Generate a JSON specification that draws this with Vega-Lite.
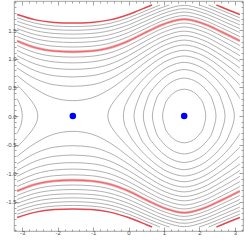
{
"$schema":"https://vega.github.io/schema/vega-lite/v6.json",
"width":229,"height":230,
"autosize":{"type":"none"},
"padding":{"left":14,"top":1,"right":2,"bottom":9},
"background":"white",
"config":{"view":{"stroke":"#8c8c8c","strokeWidth":0.8},
"axis":{"grid":false,"domain":false,"labelFont":"Liberation Sans","labelFontSize":6,"labelColor":"#4d4d4d","tickColor":"#8c8c8c","tickWidth":0.8,"title":null}},
"datasets":{
"open":[
{"c":"7a","n":7,"x":-3.1416,"y":0.707},{"c":"7a","n":7,"x":-2.618,"y":0.47},{"c":"7a","n":7,"x":-2.0944,"y":0.315},{"c":"7a","n":7,"x":-1.5708,"y":0.268},{"c":"7a","n":7,"x":-1.0472,"y":0.315},{"c":"7a","n":7,"x":-0.5236,"y":0.47},{"c":"7a","n":7,"x":0,"y":0.707},{"c":"7a","n":7,"x":0.5236,"y":0.959},{"c":"7a","n":7,"x":1.0472,"y":1.156},{"c":"7a","n":7,"x":1.5708,"y":1.241},{"c":"7a","n":7,"x":2.0944,"y":1.156},{"c":"7a","n":7,"x":2.618,"y":0.959},{"c":"7a","n":7,"x":3.1416,"y":0.707},
{"c":"7b","n":7,"x":-3.1416,"y":-0.707},{"c":"7b","n":7,"x":-2.618,"y":-0.47},{"c":"7b","n":7,"x":-2.0944,"y":-0.315},{"c":"7b","n":7,"x":-1.5708,"y":-0.268},{"c":"7b","n":7,"x":-1.0472,"y":-0.315},{"c":"7b","n":7,"x":-0.5236,"y":-0.47},{"c":"7b","n":7,"x":0,"y":-0.707},{"c":"7b","n":7,"x":0.5236,"y":-0.959},{"c":"7b","n":7,"x":1.0472,"y":-1.156},{"c":"7b","n":7,"x":1.5708,"y":-1.241},{"c":"7b","n":7,"x":2.0944,"y":-1.156},{"c":"7b","n":7,"x":2.618,"y":-0.959},{"c":"7b","n":7,"x":3.1416,"y":-0.707},
{"c":"8a","n":8,"x":-3.1416,"y":0.839},{"c":"8a","n":8,"x":-2.618,"y":0.649},{"c":"8a","n":8,"x":-2.0944,"y":0.545},{"c":"8a","n":8,"x":-1.5708,"y":0.519},{"c":"8a","n":8,"x":-1.0472,"y":0.545},{"c":"8a","n":8,"x":-0.5236,"y":0.649},{"c":"8a","n":8,"x":0,"y":0.839},{"c":"8a","n":8,"x":0.5236,"y":1.062},{"c":"8a","n":8,"x":1.0472,"y":1.245},{"c":"8a","n":8,"x":1.5708,"y":1.327},{"c":"8a","n":8,"x":2.0944,"y":1.245},{"c":"8a","n":8,"x":2.618,"y":1.062},{"c":"8a","n":8,"x":3.1416,"y":0.839},
{"c":"8b","n":8,"x":-3.1416,"y":-0.839},{"c":"8b","n":8,"x":-2.618,"y":-0.649},{"c":"8b","n":8,"x":-2.0944,"y":-0.545},{"c":"8b","n":8,"x":-1.5708,"y":-0.519},{"c":"8b","n":8,"x":-1.0472,"y":-0.545},{"c":"8b","n":8,"x":-0.5236,"y":-0.649},{"c":"8b","n":8,"x":0,"y":-0.839},{"c":"8b","n":8,"x":0.5236,"y":-1.062},{"c":"8b","n":8,"x":1.0472,"y":-1.245},{"c":"8b","n":8,"x":1.5708,"y":-1.327},{"c":"8b","n":8,"x":2.0944,"y":-1.245},{"c":"8b","n":8,"x":2.618,"y":-1.062},{"c":"8b","n":8,"x":3.1416,"y":-0.839},
{"c":"9a","n":9,"x":-3.1416,"y":0.952},{"c":"9a","n":9,"x":-2.618,"y":0.788},{"c":"9a","n":9,"x":-2.0944,"y":0.704},{"c":"9a","n":9,"x":-1.5708,"y":0.683},{"c":"9a","n":9,"x":-1.0472,"y":0.704},{"c":"9a","n":9,"x":-0.5236,"y":0.788},{"c":"9a","n":9,"x":0,"y":0.952},{"c":"9a","n":9,"x":0.5236,"y":1.156},{"c":"9a","n":9,"x":1.0472,"y":1.328},{"c":"9a","n":9,"x":1.5708,"y":1.407},{"c":"9a","n":9,"x":2.0944,"y":1.328},{"c":"9a","n":9,"x":2.618,"y":1.156},{"c":"9a","n":9,"x":3.1416,"y":0.952},
{"c":"9b","n":9,"x":-3.1416,"y":-0.952},{"c":"9b","n":9,"x":-2.618,"y":-0.788},{"c":"9b","n":9,"x":-2.0944,"y":-0.704},{"c":"9b","n":9,"x":-1.5708,"y":-0.683},{"c":"9b","n":9,"x":-1.0472,"y":-0.704},{"c":"9b","n":9,"x":-0.5236,"y":-0.788},{"c":"9b","n":9,"x":0,"y":-0.952},{"c":"9b","n":9,"x":0.5236,"y":-1.156},{"c":"9b","n":9,"x":1.0472,"y":-1.328},{"c":"9b","n":9,"x":1.5708,"y":-1.407},{"c":"9b","n":9,"x":2.0944,"y":-1.328},{"c":"9b","n":9,"x":2.618,"y":-1.156},{"c":"9b","n":9,"x":3.1416,"y":-0.952},
{"c":"10a","n":10,"x":-3.1416,"y":1.054},{"c":"10a","n":10,"x":-2.618,"y":0.906},{"c":"10a","n":10,"x":-2.0944,"y":0.833},{"c":"10a","n":10,"x":-1.5708,"y":0.815},{"c":"10a","n":10,"x":-1.0472,"y":0.833},{"c":"10a","n":10,"x":-0.5236,"y":0.906},{"c":"10a","n":10,"x":0,"y":1.054},{"c":"10a","n":10,"x":0.5236,"y":1.243},{"c":"10a","n":10,"x":1.0472,"y":1.406},{"c":"10a","n":10,"x":1.5708,"y":1.483},{"c":"10a","n":10,"x":2.0944,"y":1.406},{"c":"10a","n":10,"x":2.618,"y":1.243},{"c":"10a","n":10,"x":3.1416,"y":1.054},
{"c":"10b","n":10,"x":-3.1416,"y":-1.054},{"c":"10b","n":10,"x":-2.618,"y":-0.906},{"c":"10b","n":10,"x":-2.0944,"y":-0.833},{"c":"10b","n":10,"x":-1.5708,"y":-0.815},{"c":"10b","n":10,"x":-1.0472,"y":-0.833},{"c":"10b","n":10,"x":-0.5236,"y":-0.906},{"c":"10b","n":10,"x":0,"y":-1.054},{"c":"10b","n":10,"x":0.5236,"y":-1.243},{"c":"10b","n":10,"x":1.0472,"y":-1.406},{"c":"10b","n":10,"x":1.5708,"y":-1.483},{"c":"10b","n":10,"x":2.0944,"y":-1.406},{"c":"10b","n":10,"x":2.618,"y":-1.243},{"c":"10b","n":10,"x":3.1416,"y":-1.054},
{"c":"11a","n":11,"x":-3.1416,"y":1.146},{"c":"11a","n":11,"x":-2.618,"y":1.011},{"c":"11a","n":11,"x":-2.0944,"y":0.945},{"c":"11a","n":11,"x":-1.5708,"y":0.928},{"c":"11a","n":11,"x":-1.0472,"y":0.945},{"c":"11a","n":11,"x":-0.5236,"y":1.011},{"c":"11a","n":11,"x":0,"y":1.146},{"c":"11a","n":11,"x":0.5236,"y":1.324},{"c":"11a","n":11,"x":1.0472,"y":1.48},{"c":"11a","n":11,"x":1.5708,"y":1.556},{"c":"11a","n":11,"x":2.0944,"y":1.48},{"c":"11a","n":11,"x":2.618,"y":1.324},{"c":"11a","n":11,"x":3.1416,"y":1.146},
{"c":"11b","n":11,"x":-3.1416,"y":-1.146},{"c":"11b","n":11,"x":-2.618,"y":-1.011},{"c":"11b","n":11,"x":-2.0944,"y":-0.945},{"c":"11b","n":11,"x":-1.5708,"y":-0.928},{"c":"11b","n":11,"x":-1.0472,"y":-0.945},{"c":"11b","n":11,"x":-0.5236,"y":-1.011},{"c":"11b","n":11,"x":0,"y":-1.146},{"c":"11b","n":11,"x":0.5236,"y":-1.324},{"c":"11b","n":11,"x":1.0472,"y":-1.48},{"c":"11b","n":11,"x":1.5708,"y":-1.556},{"c":"11b","n":11,"x":2.0944,"y":-1.48},{"c":"11b","n":11,"x":2.618,"y":-1.324},{"c":"11b","n":11,"x":3.1416,"y":-1.146},
{"c":"12a","n":12,"x":-3.1416,"y":1.232},{"c":"12a","n":12,"x":-2.618,"y":1.105},{"c":"12a","n":12,"x":-2.0944,"y":1.044},{"c":"12a","n":12,"x":-1.5708,"y":1.029},{"c":"12a","n":12,"x":-1.0472,"y":1.044},{"c":"12a","n":12,"x":-0.5236,"y":1.105},{"c":"12a","n":12,"x":0,"y":1.232},{"c":"12a","n":12,"x":0.5236,"y":1.4},{"c":"12a","n":12,"x":1.0472,"y":1.55},{"c":"12a","n":12,"x":1.5708,"y":1.625},{"c":"12a","n":12,"x":2.0944,"y":1.55},{"c":"12a","n":12,"x":2.618,"y":1.4},{"c":"12a","n":12,"x":3.1416,"y":1.232},
{"c":"12b","n":12,"x":-3.1416,"y":-1.232},{"c":"12b","n":12,"x":-2.618,"y":-1.105},{"c":"12b","n":12,"x":-2.0944,"y":-1.044},{"c":"12b","n":12,"x":-1.5708,"y":-1.029},{"c":"12b","n":12,"x":-1.0472,"y":-1.044},{"c":"12b","n":12,"x":-0.5236,"y":-1.105},{"c":"12b","n":12,"x":0,"y":-1.232},{"c":"12b","n":12,"x":0.5236,"y":-1.4},{"c":"12b","n":12,"x":1.0472,"y":-1.55},{"c":"12b","n":12,"x":1.5708,"y":-1.625},{"c":"12b","n":12,"x":2.0944,"y":-1.55},{"c":"12b","n":12,"x":2.618,"y":-1.4},{"c":"12b","n":12,"x":3.1416,"y":-1.232},
{"c":"13a","n":13,"x":-3.1416,"y":1.312},{"c":"13a","n":13,"x":-2.618,"y":1.193},{"c":"13a","n":13,"x":-2.0944,"y":1.135},{"c":"13a","n":13,"x":-1.5708,"y":1.121},{"c":"13a","n":13,"x":-1.0472,"y":1.135},{"c":"13a","n":13,"x":-0.5236,"y":1.193},{"c":"13a","n":13,"x":0,"y":1.312},{"c":"13a","n":13,"x":0.5236,"y":1.473},{"c":"13a","n":13,"x":1.0472,"y":1.618},{"c":"13a","n":13,"x":1.5708,"y":1.691},{"c":"13a","n":13,"x":2.0944,"y":1.618},{"c":"13a","n":13,"x":2.618,"y":1.473},{"c":"13a","n":13,"x":3.1416,"y":1.312},
{"c":"13b","n":13,"x":-3.1416,"y":-1.312},{"c":"13b","n":13,"x":-2.618,"y":-1.193},{"c":"13b","n":13,"x":-2.0944,"y":-1.135},{"c":"13b","n":13,"x":-1.5708,"y":-1.121},{"c":"13b","n":13,"x":-1.0472,"y":-1.135},{"c":"13b","n":13,"x":-0.5236,"y":-1.193},{"c":"13b","n":13,"x":0,"y":-1.312},{"c":"13b","n":13,"x":0.5236,"y":-1.473},{"c":"13b","n":13,"x":1.0472,"y":-1.618},{"c":"13b","n":13,"x":1.5708,"y":-1.691},{"c":"13b","n":13,"x":2.0944,"y":-1.618},{"c":"13b","n":13,"x":2.618,"y":-1.473},{"c":"13b","n":13,"x":3.1416,"y":-1.312},
{"c":"14a","n":14,"x":-3.1416,"y":1.387},{"c":"14a","n":14,"x":-2.618,"y":1.274},{"c":"14a","n":14,"x":-2.0944,"y":1.219},{"c":"14a","n":14,"x":-1.5708,"y":1.206},{"c":"14a","n":14,"x":-1.0472,"y":1.219},{"c":"14a","n":14,"x":-0.5236,"y":1.274},{"c":"14a","n":14,"x":0,"y":1.387},{"c":"14a","n":14,"x":0.5236,"y":1.542},{"c":"14a","n":14,"x":1.0472,"y":1.683},{"c":"14a","n":14,"x":1.5708,"y":1.755},{"c":"14a","n":14,"x":2.0944,"y":1.683},{"c":"14a","n":14,"x":2.618,"y":1.542},{"c":"14a","n":14,"x":3.1416,"y":1.387},
{"c":"14b","n":14,"x":-3.1416,"y":-1.387},{"c":"14b","n":14,"x":-2.618,"y":-1.274},{"c":"14b","n":14,"x":-2.0944,"y":-1.219},{"c":"14b","n":14,"x":-1.5708,"y":-1.206},{"c":"14b","n":14,"x":-1.0472,"y":-1.219},{"c":"14b","n":14,"x":-0.5236,"y":-1.274},{"c":"14b","n":14,"x":0,"y":-1.387},{"c":"14b","n":14,"x":0.5236,"y":-1.542},{"c":"14b","n":14,"x":1.0472,"y":-1.683},{"c":"14b","n":14,"x":1.5708,"y":-1.755},{"c":"14b","n":14,"x":2.0944,"y":-1.683},{"c":"14b","n":14,"x":2.618,"y":-1.542},{"c":"14b","n":14,"x":3.1416,"y":-1.387},
{"c":"15a","n":15,"x":-3.1416,"y":1.459},{"c":"15a","n":15,"x":-2.618,"y":1.35},{"c":"15a","n":15,"x":-2.0944,"y":1.298},{"c":"15a","n":15,"x":-1.5708,"y":1.285},{"c":"15a","n":15,"x":-1.0472,"y":1.298},{"c":"15a","n":15,"x":-0.5236,"y":1.35},{"c":"15a","n":15,"x":0,"y":1.459},{"c":"15a","n":15,"x":0.5236,"y":1.608},{"c":"15a","n":15,"x":1.0472,"y":1.745},{"c":"15a","n":15,"x":1.5708,"y":1.817},{"c":"15a","n":15,"x":2.0944,"y":1.745},{"c":"15a","n":15,"x":2.618,"y":1.608},{"c":"15a","n":15,"x":3.1416,"y":1.459},
{"c":"15b","n":15,"x":-3.1416,"y":-1.459},{"c":"15b","n":15,"x":-2.618,"y":-1.35},{"c":"15b","n":15,"x":-2.0944,"y":-1.298},{"c":"15b","n":15,"x":-1.5708,"y":-1.285},{"c":"15b","n":15,"x":-1.0472,"y":-1.298},{"c":"15b","n":15,"x":-0.5236,"y":-1.35},{"c":"15b","n":15,"x":0,"y":-1.459},{"c":"15b","n":15,"x":0.5236,"y":-1.608},{"c":"15b","n":15,"x":1.0472,"y":-1.745},{"c":"15b","n":15,"x":1.5708,"y":-1.817},{"c":"15b","n":15,"x":2.0944,"y":-1.745},{"c":"15b","n":15,"x":2.618,"y":-1.608},{"c":"15b","n":15,"x":3.1416,"y":-1.459},
{"c":"16a","n":16,"x":-3.1416,"y":1.527},{"c":"16a","n":16,"x":-2.618,"y":1.422},{"c":"16a","n":16,"x":-2.0944,"y":1.372},{"c":"16a","n":16,"x":-1.5708,"y":1.36},{"c":"16a","n":16,"x":-1.0472,"y":1.372},{"c":"16a","n":16,"x":-0.5236,"y":1.422},{"c":"16a","n":16,"x":0,"y":1.527},{"c":"16a","n":16,"x":0.5236,"y":1.671},{"c":"16a","n":16,"x":1.0472,"y":1.805},{"c":"16a","n":16,"x":1.5708,"y":1.876},{"c":"16a","n":16,"x":2.0944,"y":1.805},{"c":"16a","n":16,"x":2.618,"y":1.671},{"c":"16a","n":16,"x":3.1416,"y":1.527},
{"c":"16b","n":16,"x":-3.1416,"y":-1.527},{"c":"16b","n":16,"x":-2.618,"y":-1.422},{"c":"16b","n":16,"x":-2.0944,"y":-1.372},{"c":"16b","n":16,"x":-1.5708,"y":-1.36},{"c":"16b","n":16,"x":-1.0472,"y":-1.372},{"c":"16b","n":16,"x":-0.5236,"y":-1.422},{"c":"16b","n":16,"x":0,"y":-1.527},{"c":"16b","n":16,"x":0.5236,"y":-1.671},{"c":"16b","n":16,"x":1.0472,"y":-1.805},{"c":"16b","n":16,"x":1.5708,"y":-1.876},{"c":"16b","n":16,"x":2.0944,"y":-1.805},{"c":"16b","n":16,"x":2.618,"y":-1.671},{"c":"16b","n":16,"x":3.1416,"y":-1.527},
{"c":"17a","n":17,"x":-3.1416,"y":1.592},{"c":"17a","n":17,"x":-2.618,"y":1.491},{"c":"17a","n":17,"x":-2.0944,"y":1.443},{"c":"17a","n":17,"x":-1.5708,"y":1.431},{"c":"17a","n":17,"x":-1.0472,"y":1.443},{"c":"17a","n":17,"x":-0.5236,"y":1.491},{"c":"17a","n":17,"x":0,"y":1.592},{"c":"17a","n":17,"x":0.5236,"y":1.732},{"c":"17a","n":17,"x":1.0472,"y":1.863},{"c":"17a","n":17,"x":1.5708,"y":1.934},{"c":"17a","n":17,"x":2.0944,"y":1.863},{"c":"17a","n":17,"x":2.618,"y":1.732},{"c":"17a","n":17,"x":3.1416,"y":1.592},
{"c":"17b","n":17,"x":-3.1416,"y":-1.592},{"c":"17b","n":17,"x":-2.618,"y":-1.491},{"c":"17b","n":17,"x":-2.0944,"y":-1.443},{"c":"17b","n":17,"x":-1.5708,"y":-1.431},{"c":"17b","n":17,"x":-1.0472,"y":-1.443},{"c":"17b","n":17,"x":-0.5236,"y":-1.491},{"c":"17b","n":17,"x":0,"y":-1.592},{"c":"17b","n":17,"x":0.5236,"y":-1.732},{"c":"17b","n":17,"x":1.0472,"y":-1.863},{"c":"17b","n":17,"x":1.5708,"y":-1.934},{"c":"17b","n":17,"x":2.0944,"y":-1.863},{"c":"17b","n":17,"x":2.618,"y":-1.732},{"c":"17b","n":17,"x":3.1416,"y":-1.592},
{"c":"18a1","n":18,"x":-3.1416,"y":1.655},{"c":"18a1","n":18,"x":-2.618,"y":1.557},{"c":"18a1","n":18,"x":-2.0944,"y":1.51},{"c":"18a1","n":18,"x":-1.5708,"y":1.498},{"c":"18a1","n":18,"x":-1.0472,"y":1.51},{"c":"18a1","n":18,"x":-0.5236,"y":1.557},{"c":"18a1","n":18,"x":0,"y":1.655},{"c":"18a1","n":18,"x":0.5236,"y":1.792},{"c":"18a1","n":18,"x":1.0472,"y":1.92},{"c":"18a1","n":18,"x":1.1525,"y":1.94},
{"c":"18a2","n":18,"x":1.9891,"y":1.94},{"c":"18a2","n":18,"x":2.0944,"y":1.92},{"c":"18a2","n":18,"x":2.618,"y":1.792},{"c":"18a2","n":18,"x":3.1416,"y":1.655},
{"c":"18b1","n":18,"x":-3.1416,"y":-1.655},{"c":"18b1","n":18,"x":-2.618,"y":-1.557},{"c":"18b1","n":18,"x":-2.0944,"y":-1.51},{"c":"18b1","n":18,"x":-1.5708,"y":-1.498},{"c":"18b1","n":18,"x":-1.0472,"y":-1.51},{"c":"18b1","n":18,"x":-0.5236,"y":-1.557},{"c":"18b1","n":18,"x":0,"y":-1.655},{"c":"18b1","n":18,"x":0.5236,"y":-1.792},{"c":"18b1","n":18,"x":1.0472,"y":-1.92},{"c":"18b1","n":18,"x":1.1525,"y":-1.94},
{"c":"18b2","n":18,"x":1.9891,"y":-1.94},{"c":"18b2","n":18,"x":2.0944,"y":-1.92},{"c":"18b2","n":18,"x":2.618,"y":-1.792},{"c":"18b2","n":18,"x":3.1416,"y":-1.655},
{"c":"19a1","n":19,"x":-3.1416,"y":1.716},{"c":"19a1","n":19,"x":-2.618,"y":1.62},{"c":"19a1","n":19,"x":-2.0944,"y":1.574},{"c":"19a1","n":19,"x":-1.5708,"y":1.563},{"c":"19a1","n":19,"x":-1.0472,"y":1.574},{"c":"19a1","n":19,"x":-0.5236,"y":1.62},{"c":"19a1","n":19,"x":0,"y":1.716},{"c":"19a1","n":19,"x":0.5236,"y":1.849},{"c":"19a1","n":19,"x":0.886,"y":1.94},
{"c":"19a2","n":19,"x":2.2556,"y":1.94},{"c":"19a2","n":19,"x":2.618,"y":1.849},{"c":"19a2","n":19,"x":3.1416,"y":1.716},
{"c":"19b1","n":19,"x":-3.1416,"y":-1.716},{"c":"19b1","n":19,"x":-2.618,"y":-1.62},{"c":"19b1","n":19,"x":-2.0944,"y":-1.574},{"c":"19b1","n":19,"x":-1.5708,"y":-1.563},{"c":"19b1","n":19,"x":-1.0472,"y":-1.574},{"c":"19b1","n":19,"x":-0.5236,"y":-1.62},{"c":"19b1","n":19,"x":0,"y":-1.716},{"c":"19b1","n":19,"x":0.5236,"y":-1.849},{"c":"19b1","n":19,"x":0.886,"y":-1.94},
{"c":"19b2","n":19,"x":2.2556,"y":-1.94},{"c":"19b2","n":19,"x":2.618,"y":-1.849},{"c":"19b2","n":19,"x":3.1416,"y":-1.716},
{"c":"20a1","n":20,"x":-3.1416,"y":1.774},{"c":"20a1","n":20,"x":-2.618,"y":1.68},{"c":"20a1","n":20,"x":-2.0944,"y":1.636},{"c":"20a1","n":20,"x":-1.5708,"y":1.625},{"c":"20a1","n":20,"x":-1.0472,"y":1.636},{"c":"20a1","n":20,"x":-0.5236,"y":1.68},{"c":"20a1","n":20,"x":0,"y":1.774},{"c":"20a1","n":20,"x":0.5236,"y":1.904},{"c":"20a1","n":20,"x":0.6632,"y":1.94},
{"c":"20a2","n":20,"x":2.4784,"y":1.94},{"c":"20a2","n":20,"x":2.618,"y":1.904},{"c":"20a2","n":20,"x":3.1416,"y":1.774},
{"c":"20b1","n":20,"x":-3.1416,"y":-1.774},{"c":"20b1","n":20,"x":-2.618,"y":-1.68},{"c":"20b1","n":20,"x":-2.0944,"y":-1.636},{"c":"20b1","n":20,"x":-1.5708,"y":-1.625},{"c":"20b1","n":20,"x":-1.0472,"y":-1.636},{"c":"20b1","n":20,"x":-0.5236,"y":-1.68},{"c":"20b1","n":20,"x":0,"y":-1.774},{"c":"20b1","n":20,"x":0.5236,"y":-1.904},{"c":"20b1","n":20,"x":0.6632,"y":-1.94},
{"c":"20b2","n":20,"x":2.4784,"y":-1.94},{"c":"20b2","n":20,"x":2.618,"y":-1.904},{"c":"20b2","n":20,"x":3.1416,"y":-1.774}
],
"rings":[
{"c":"r1","i":0,"x":0.961,"y":0},{"c":"r1","i":1,"x":1.035,"y":0.214},{"c":"r1","i":2,"x":1.114,"y":0.3},{"c":"r1","i":3,"x":1.236,"y":0.384},{"c":"r1","i":4,"x":1.388,"y":0.444},{"c":"r1","i":5,"x":1.571,"y":0.469},{"c":"r1","i":6,"x":1.754,"y":0.444},{"c":"r1","i":7,"x":1.906,"y":0.384},{"c":"r1","i":8,"x":2.028,"y":0.3},{"c":"r1","i":9,"x":2.107,"y":0.214},{"c":"r1","i":10,"x":2.18,"y":0},{"c":"r1","i":11,"x":2.107,"y":-0.214},{"c":"r1","i":12,"x":2.028,"y":-0.3},{"c":"r1","i":13,"x":1.906,"y":-0.384},{"c":"r1","i":14,"x":1.754,"y":-0.444},{"c":"r1","i":15,"x":1.571,"y":-0.469},{"c":"r1","i":16,"x":1.388,"y":-0.444},{"c":"r1","i":17,"x":1.236,"y":-0.384},{"c":"r1","i":18,"x":1.114,"y":-0.3},{"c":"r1","i":19,"x":1.035,"y":-0.214},
{"c":"r2","i":0,"x":0.673,"y":0},{"c":"r2","i":1,"x":0.781,"y":0.29},{"c":"r2","i":2,"x":0.897,"y":0.412},{"c":"r2","i":3,"x":1.077,"y":0.533},{"c":"r2","i":4,"x":1.302,"y":0.623},{"c":"r2","i":5,"x":1.571,"y":0.663},{"c":"r2","i":6,"x":1.84,"y":0.623},{"c":"r2","i":7,"x":2.065,"y":0.533},{"c":"r2","i":8,"x":2.244,"y":0.412},{"c":"r2","i":9,"x":2.361,"y":0.29},{"c":"r2","i":10,"x":2.469,"y":0},{"c":"r2","i":11,"x":2.361,"y":-0.29},{"c":"r2","i":12,"x":2.244,"y":-0.412},{"c":"r2","i":13,"x":2.065,"y":-0.533},{"c":"r2","i":14,"x":1.84,"y":-0.623},{"c":"r2","i":15,"x":1.571,"y":-0.663},{"c":"r2","i":16,"x":1.302,"y":-0.623},{"c":"r2","i":17,"x":1.077,"y":-0.533},{"c":"r2","i":18,"x":0.897,"y":-0.412},{"c":"r2","i":19,"x":0.781,"y":-0.29},
{"c":"r3","i":0,"x":0.417,"y":0},{"c":"r3","i":1,"x":0.555,"y":0.337},{"c":"r3","i":2,"x":0.706,"y":0.485},{"c":"r3","i":3,"x":0.936,"y":0.639},{"c":"r3","i":4,"x":1.225,"y":0.758},{"c":"r3","i":5,"x":1.571,"y":0.812},{"c":"r3","i":6,"x":1.917,"y":0.758},{"c":"r3","i":7,"x":2.205,"y":0.639},{"c":"r3","i":8,"x":2.436,"y":0.485},{"c":"r3","i":9,"x":2.586,"y":0.337},{"c":"r3","i":10,"x":2.724,"y":0},{"c":"r3","i":11,"x":2.586,"y":-0.337},{"c":"r3","i":12,"x":2.436,"y":-0.485},{"c":"r3","i":13,"x":2.205,"y":-0.639},{"c":"r3","i":14,"x":1.917,"y":-0.758},{"c":"r3","i":15,"x":1.571,"y":-0.812},{"c":"r3","i":16,"x":1.225,"y":-0.758},{"c":"r3","i":17,"x":0.936,"y":-0.639},{"c":"r3","i":18,"x":0.706,"y":-0.485},{"c":"r3","i":19,"x":0.555,"y":-0.337},
{"c":"r4","i":0,"x":0.156,"y":0},{"c":"r4","i":1,"x":0.326,"y":0.364},{"c":"r4","i":2,"x":0.51,"y":0.533},{"c":"r4","i":3,"x":0.793,"y":0.717},{"c":"r4","i":4,"x":1.146,"y":0.867},{"c":"r4","i":5,"x":1.571,"y":0.938},{"c":"r4","i":6,"x":1.995,"y":0.867},{"c":"r4","i":7,"x":2.349,"y":0.717},{"c":"r4","i":8,"x":2.632,"y":0.533},{"c":"r4","i":9,"x":2.816,"y":0.364},{"c":"r4","i":10,"x":2.986,"y":0},{"c":"r4","i":11,"x":2.816,"y":-0.364},{"c":"r4","i":12,"x":2.632,"y":-0.533},{"c":"r4","i":13,"x":2.349,"y":-0.717},{"c":"r4","i":14,"x":1.995,"y":-0.867},{"c":"r4","i":15,"x":1.571,"y":-0.938},{"c":"r4","i":16,"x":1.146,"y":-0.867},{"c":"r4","i":17,"x":0.793,"y":-0.717},{"c":"r4","i":18,"x":0.51,"y":-0.533},{"c":"r4","i":19,"x":0.326,"y":-0.364}
],
"pieces":[
{"c":"p5","i":0,"x":3.1416,"y":0.304},{"c":"p5","i":1,"x":3.081,"y":0.367},{"c":"p5","i":2,"x":2.921,"y":0.505},{"c":"p5","i":3,"x":2.671,"y":0.678},{"c":"p5","i":4,"x":2.321,"y":0.865},{"c":"p5","i":5,"x":1.971,"y":0.99},{"c":"p5","i":6,"x":1.571,"y":1.049},{"c":"p5","i":7,"x":1.171,"y":0.99},{"c":"p5","i":8,"x":0.821,"y":0.865},{"c":"p5","i":9,"x":0.471,"y":0.678},{"c":"p5","i":10,"x":0.221,"y":0.505},{"c":"p5","i":11,"x":0.061,"y":0.367},{"c":"p5","i":12,"x":-0.077,"y":0.205},{"c":"p5","i":13,"x":-0.119,"y":0.125},{"c":"p5","i":14,"x":-0.145,"y":0},{"c":"p5","i":15,"x":-0.119,"y":-0.125},{"c":"p5","i":16,"x":-0.077,"y":-0.205},{"c":"p5","i":17,"x":0.061,"y":-0.367},{"c":"p5","i":18,"x":0.221,"y":-0.505},{"c":"p5","i":19,"x":0.471,"y":-0.678},{"c":"p5","i":20,"x":0.821,"y":-0.865},{"c":"p5","i":21,"x":1.171,"y":-0.99},{"c":"p5","i":22,"x":1.571,"y":-1.049},{"c":"p5","i":23,"x":1.971,"y":-0.99},{"c":"p5","i":24,"x":2.321,"y":-0.865},{"c":"p5","i":25,"x":2.671,"y":-0.678},{"c":"p5","i":26,"x":2.921,"y":-0.505},{"c":"p5","i":27,"x":3.081,"y":-0.367},{"c":"p5","i":28,"x":3.1416,"y":-0.304},
{"c":"p5L","i":0,"x":-3.1416,"y":0.304},{"c":"p5L","i":1,"x":-3.112,"y":0.27},{"c":"p5L","i":2,"x":-3.065,"y":0.205},{"c":"p5L","i":3,"x":-3.022,"y":0.125},{"c":"p5L","i":4,"x":-2.996,"y":0},{"c":"p5L","i":5,"x":-3.022,"y":-0.125},{"c":"p5L","i":6,"x":-3.065,"y":-0.205},{"c":"p5L","i":7,"x":-3.112,"y":-0.27},{"c":"p5L","i":8,"x":-3.1416,"y":-0.304},
{"c":"p6","i":0,"x":3.1416,"y":0.544},{"c":"p6","i":1,"x":3.081,"y":0.582},{"c":"p6","i":2,"x":2.921,"y":0.678},{"c":"p6","i":3,"x":2.671,"y":0.817},{"c":"p6","i":4,"x":2.321,"y":0.979},{"c":"p6","i":5,"x":1.971,"y":1.093},{"c":"p6","i":6,"x":1.571,"y":1.149},{"c":"p6","i":7,"x":1.171,"y":1.093},{"c":"p6","i":8,"x":0.821,"y":0.979},{"c":"p6","i":9,"x":0.471,"y":0.817},{"c":"p6","i":10,"x":0.221,"y":0.678},{"c":"p6","i":11,"x":0,"y":0.544},{"c":"p6","i":12,"x":-0.179,"y":0.427},{"c":"p6","i":13,"x":-0.329,"y":0.321},{"c":"p6","i":14,"x":-0.429,"y":0.24},{"c":"p6","i":15,"x":-0.509,"y":0.161},{"c":"p6","i":16,"x":-0.559,"y":0.089},{"c":"p6","i":17,"x":-0.583,"y":0},{"c":"p6","i":18,"x":-0.559,"y":-0.089},{"c":"p6","i":19,"x":-0.509,"y":-0.161},{"c":"p6","i":20,"x":-0.429,"y":-0.24},{"c":"p6","i":21,"x":-0.329,"y":-0.321},{"c":"p6","i":22,"x":-0.179,"y":-0.427},{"c":"p6","i":23,"x":0,"y":-0.544},{"c":"p6","i":24,"x":0.221,"y":-0.678},{"c":"p6","i":25,"x":0.471,"y":-0.817},{"c":"p6","i":26,"x":0.821,"y":-0.979},{"c":"p6","i":27,"x":1.171,"y":-1.093},{"c":"p6","i":28,"x":1.571,"y":-1.149},{"c":"p6","i":29,"x":1.971,"y":-1.093},{"c":"p6","i":30,"x":2.321,"y":-0.979},{"c":"p6","i":31,"x":2.671,"y":-0.817},{"c":"p6","i":32,"x":2.921,"y":-0.678},{"c":"p6","i":33,"x":3.081,"y":-0.582},{"c":"p6","i":34,"x":3.1416,"y":-0.544},
{"c":"p6L","i":0,"x":-3.1416,"y":0.544},{"c":"p6L","i":1,"x":-2.962,"y":0.427},{"c":"p6L","i":2,"x":-2.812,"y":0.321},{"c":"p6L","i":3,"x":-2.712,"y":0.24},{"c":"p6L","i":4,"x":-2.632,"y":0.161},{"c":"p6L","i":5,"x":-2.582,"y":0.089},{"c":"p6L","i":6,"x":-2.559,"y":0},{"c":"p6L","i":7,"x":-2.582,"y":-0.089},{"c":"p6L","i":8,"x":-2.632,"y":-0.161},{"c":"p6L","i":9,"x":-2.712,"y":-0.24},{"c":"p6L","i":10,"x":-2.812,"y":-0.321},{"c":"p6L","i":11,"x":-2.962,"y":-0.427},{"c":"p6L","i":12,"x":-3.1416,"y":-0.544}
],
"fixed":[{"x":-1.5708,"y":0},{"x":1.5708,"y":0}]
},
"layer":[
{"data":{"name":"open"},"transform":[{"filter":"datum.n != 13 && datum.n != 20"}],
"mark":{"type":"line","interpolate":"monotone","stroke":"#8e8e8e","strokeWidth":0.7,"clip":true},
"encoding":{
"x":{"field":"x","type":"quantitative","scale":{"domain":[-3.23,3.23],"nice":false,"zero":false},"axis":{"orient":"bottom","values":[-3,-2,-1,0,1,2,3],"tickSize":-4,"labelPadding":2,"labelExpr":"replace(format(datum.value,'d'),'\u2212','-')"}},
"y":{"field":"y","type":"quantitative","scale":{"domain":[-2.01,2.01],"nice":false,"zero":false},"axis":{"orient":"left","values":[-1.5,-1,-0.5,0,0.5,1,1.5],"tickSize":-4,"labelPadding":2,"labelExpr":"replace(format(datum.value,'.1f'),'\u2212','-')"}},
"detail":{"field":"c"}}},
{"data":{"name":"rings"},
"mark":{"type":"line","interpolate":"cardinal-closed","stroke":"#8e8e8e","strokeWidth":0.7,"clip":true},
"encoding":{
"x":{"field":"x","type":"quantitative","scale":{"domain":[-3.23,3.23],"nice":false,"zero":false},"axis":{"orient":"bottom","values":[-3.2,-2.8,-2.6,-2.4,-2.2,-1.8,-1.6,-1.4,-1.2,-0.8,-0.6,-0.4,-0.2,0.2,0.4,0.6,0.8,1.2,1.4,1.6,1.8,2.2,2.4,2.6,2.8,3.2],"tickSize":-2,"labels":false}},
"y":{"field":"y","type":"quantitative","scale":{"domain":[-2.01,2.01],"nice":false,"zero":false},"axis":{"orient":"left","values":[-2,-1.9,-1.8,-1.7,-1.6,-1.4,-1.3,-1.2,-1.1,-0.9,-0.8,-0.7,-0.6,-0.4,-0.3,-0.2,-0.1,0.1,0.2,0.3,0.4,0.6,0.7,0.8,0.9,1.1,1.2,1.3,1.4,1.6,1.7,1.8,1.9,2],"tickSize":-2,"labels":false}},
"detail":{"field":"c"},"order":{"field":"i","type":"quantitative"}}},
{"data":{"name":"pieces"},
"mark":{"type":"line","interpolate":"cardinal","stroke":"#8e8e8e","strokeWidth":0.7,"clip":true},
"encoding":{
"x":{"field":"x","type":"quantitative","scale":{"domain":[-3.23,3.23],"nice":false,"zero":false},"axis":{"orient":"top","values":[-3,-2,-1,0,1,2,3],"tickSize":-4,"labels":false}},
"y":{"field":"y","type":"quantitative","scale":{"domain":[-2.01,2.01],"nice":false,"zero":false},"axis":{"orient":"right","values":[-1.5,-1,-0.5,0,0.5,1,1.5],"tickSize":-4,"labels":false}},
"detail":{"field":"c"},"order":{"field":"i","type":"quantitative"}}},
{"data":{"name":"open"},"transform":[{"filter":"datum.n == 13"}],
"mark":{"type":"line","interpolate":"monotone","stroke":"#f4a3a6","strokeWidth":2.6,"clip":true},
"encoding":{
"x":{"field":"x","type":"quantitative","scale":{"domain":[-3.23,3.23],"nice":false,"zero":false},"axis":{"orient":"top","values":[-3.2,-2.8,-2.6,-2.4,-2.2,-1.8,-1.6,-1.4,-1.2,-0.8,-0.6,-0.4,-0.2,0.2,0.4,0.6,0.8,1.2,1.4,1.6,1.8,2.2,2.4,2.6,2.8,3.2],"tickSize":-2,"labels":false}},
"y":{"field":"y","type":"quantitative","scale":{"domain":[-2.01,2.01],"nice":false,"zero":false},"axis":{"orient":"right","values":[-2,-1.9,-1.8,-1.7,-1.6,-1.4,-1.3,-1.2,-1.1,-0.9,-0.8,-0.7,-0.6,-0.4,-0.3,-0.2,-0.1,0.1,0.2,0.3,0.4,0.6,0.7,0.8,0.9,1.1,1.2,1.3,1.4,1.6,1.7,1.8,1.9,2],"tickSize":-2,"labels":false}},
"detail":{"field":"c"}}},
{"data":{"name":"open"},"transform":[{"filter":"datum.n == 13"}],
"mark":{"type":"line","interpolate":"monotone","stroke":"#e45c60","strokeWidth":0.9,"clip":true},
"encoding":{
"x":{"field":"x","type":"quantitative","scale":{"domain":[-3.23,3.23],"nice":false,"zero":false},"axis":null},
"y":{"field":"y","type":"quantitative","scale":{"domain":[-2.01,2.01],"nice":false,"zero":false},"axis":null},
"detail":{"field":"c"}}},
{"data":{"name":"open"},"transform":[{"filter":"datum.n == 20"}],
"mark":{"type":"line","interpolate":"monotone","stroke":"#e2474d","strokeWidth":1.5,"clip":true},
"encoding":{
"x":{"field":"x","type":"quantitative","scale":{"domain":[-3.23,3.23],"nice":false,"zero":false},"axis":null},
"y":{"field":"y","type":"quantitative","scale":{"domain":[-2.01,2.01],"nice":false,"zero":false},"axis":null},
"detail":{"field":"c"}}},
{"data":{"name":"fixed"},
"mark":{"type":"circle","size":42,"color":"#0000ff","opacity":1},
"encoding":{
"x":{"field":"x","type":"quantitative","scale":{"domain":[-3.23,3.23],"nice":false,"zero":false},"axis":null},
"y":{"field":"y","type":"quantitative","scale":{"domain":[-2.01,2.01],"nice":false,"zero":false},"axis":null}}}
],
"resolve":{"axis":{"x":"independent","y":"independent"}}
}
